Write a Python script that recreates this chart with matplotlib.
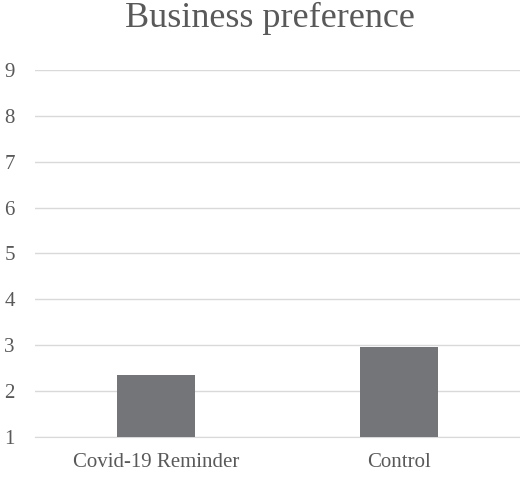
import matplotlib
matplotlib.use("Agg")
from matplotlib import pyplot as plt

# data
categories = ["Covid-19 Reminder", "Control"]
values = [2.34, 2.95]
y_ticks = [1, 2, 3, 4, 5, 6, 7, 8, 9]

plt.rcParams['font.family'] = ['Liberation Serif', 'DejaVu Serif']

fig = plt.figure(figsize=(5.2, 4.8), dpi=100)
ax = fig.add_axes([0.067, 0.09, 0.933, 0.764])

x = range(len(categories))
ax.bar(x, [v - 1 for v in values], bottom=1, width=0.32, color="#747578", zorder=3)

ax.set_xlim(-0.5, len(categories) - 0.5)
ax.set_ylim(1, 9)
ax.set_yticks(y_ticks)
ax.set_xticks(list(x))
ax.set_xticklabels(categories)
ax.grid(axis="y", color="#d9d9d9", linewidth=1, zorder=0)
ax.tick_params(axis="both", length=0, labelsize=15, colors="#595959")
ax.tick_params(axis="y", pad=22)
ax.tick_params(axis="x", pad=12)
for lbl in ax.get_yticklabels():
    lbl.set_horizontalalignment("left")
for s in ["top", "right", "left"]:
    ax.spines[s].set_visible(False)
ax.spines["bottom"].set_color("#d9d9d9")

fig.text(0.52, 0.962, "Business preference", ha="center", va="center",
         fontsize=26, color="#595959")

fig.savefig("out.png", dpi=100)
